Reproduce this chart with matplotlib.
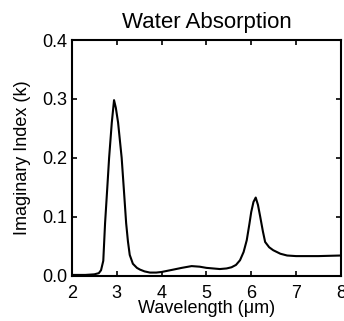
import matplotlib
matplotlib.use("Agg")
import matplotlib.pyplot as plt

wavelength = [2.0, 2.3, 2.5, 2.6, 2.65, 2.7, 2.74, 2.79, 2.83, 2.89, 2.94, 2.98,
              3.03, 3.07, 3.11, 3.16, 3.21, 3.25, 3.29, 3.36, 3.45, 3.52, 3.62,
              3.74, 3.88, 4.0, 4.13, 4.26, 4.45, 4.67, 4.85, 5.0, 5.15, 5.3,
              5.45, 5.56, 5.66, 5.75, 5.83, 5.9, 5.96, 6.0, 6.05, 6.1, 6.15,
              6.2, 6.26, 6.31, 6.4, 6.49, 6.65, 6.8, 7.0, 7.5, 8.0]
k_index = [0.001, 0.001, 0.002, 0.004, 0.009, 0.025, 0.089, 0.15, 0.20, 0.26, 0.298, 0.285,
           0.26, 0.23, 0.20, 0.145, 0.089, 0.058, 0.035, 0.020, 0.013, 0.010, 0.007,
           0.005, 0.005, 0.006, 0.008, 0.010, 0.013, 0.016, 0.015, 0.013, 0.012, 0.011,
           0.012, 0.014, 0.018, 0.026, 0.040, 0.060, 0.088, 0.108, 0.125, 0.1325, 0.12,
           0.10, 0.075, 0.057, 0.048, 0.043, 0.037, 0.034, 0.033, 0.033, 0.034]

xticks = [2, 3, 4, 5, 6, 7, 8]
yticks = [0.0, 0.1, 0.2, 0.3, 0.4]
ytick_labels = ["0.0", "0.1", "0.2", "0.3", "0.4"]

plt.rcParams['font.family'] = ['Liberation Sans', 'DejaVu Sans']

fig = plt.figure(figsize=(3.44, 3.21), dpi=100)
ax = fig.add_axes([0.209, 0.1417, 0.782, 0.7333])
ax.plot(wavelength, k_index, color='black', lw=1.5)
ax.set_xlim(2, 8)
ax.set_ylim(0, 0.4)
ax.set_xticks(xticks)
ax.set_yticks(yticks)
ax.set_yticklabels(ytick_labels)
ax.tick_params(direction='in', top=True, right=True, length=3.5, width=1.2,
               labelsize=13)
ax.tick_params(axis='x', pad=7)
ax.tick_params(axis='y', pad=3)
for s in ax.spines.values():
    s.set_linewidth(1.5)
ax.set_title("Water Absorption", fontsize=16, pad=8.4)
ax.set_xlabel("Wavelength (μm)", fontsize=13, labelpad=-1.5)
ax.set_ylabel("Imaginary Index (k)", fontsize=13, labelpad=8)
fig.savefig("out.png", dpi=100)
